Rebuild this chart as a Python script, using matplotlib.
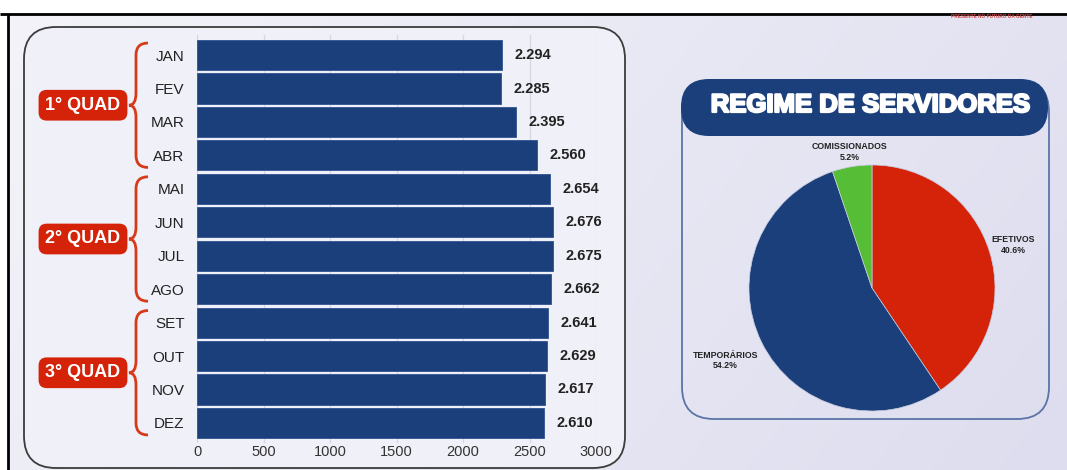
import numpy as np
import matplotlib
matplotlib.use('Agg')
import matplotlib.pyplot as plt
from matplotlib.patches import FancyBboxPatch, PathPatch
from matplotlib.path import Path
from matplotlib.colors import LinearSegmentedColormap
import matplotlib.transforms as mtransforms
import matplotlib.patheffects as pe

plt.rcParams['font.family'] = ['Liberation Sans', 'DejaVu Sans']

# ---------------- data ----------------
months = ['JAN', 'FEV', 'MAR', 'ABR', 'MAI', 'JUN', 'JUL', 'AGO', 'SET', 'OUT', 'NOV', 'DEZ']
values = [2294, 2285, 2395, 2560, 2654, 2676, 2675, 2662, 2641, 2629, 2617, 2610]
x_ticks = [0, 500, 1000, 1500, 2000, 2500, 3000]
quad_labels = ['1° QUAD', '2° QUAD', '3° QUAD']
quad_groups = [(0, 3), (4, 7), (8, 11)]
regime_labels = ['EFETIVOS', 'TEMPORÁRIOS', 'COMISSIONADOS']
regime_pct = [40.6, 54.2, 5.2]
pie_title = 'REGIME DE SERVIDORES'
slogan = 'PRESENTE NO FUTURO DA GENTE'

# ---------------- style ----------------
BLUE = '#1B3F7A'
RED = '#D42309'
GREEN = '#55BD36'
BRACE = '#D63A18'
W, H = 1067, 470

fig = plt.figure(figsize=(W / 100, H / 100), dpi=100)
fig.patch.set_facecolor('white')

bg = fig.add_axes([0, 0, 1, 1])
bg.axis('off')

# gradient background
gx = np.linspace(0, 1, 300)[None, :]
gy = np.linspace(0, 1, 120)[:, None]
grad = 0.75 * gx + 0.25 * gy
cmap = LinearSegmentedColormap.from_list('bgc', ['#F3F3F9', '#DDDDEF'])
bg.imshow(grad, extent=(8, W, H, 14), aspect='auto', cmap=cmap, zorder=0)
bg.set_xlim(0, W)
bg.set_ylim(H, 0)

# frame lines
bg.plot([0, W], [14, 14], color='black', lw=2, zorder=1, solid_capstyle='butt')
bg.plot([8, 8], [14, H], color='black', lw=2, zorder=1, solid_capstyle='butt')
bg.text(992, 17, slogan, fontsize=3.4, color='#D04848', fontweight='bold',
        ha='center', va='center', zorder=2)

# left panel
bg.add_patch(FancyBboxPatch((24, 27), 601, 441, boxstyle='round,pad=0,rounding_size=32',
                            fc='#F0F0F8', ec='#3C3C3C', lw=1.3, zorder=1))

# pie panel
bg.add_patch(FancyBboxPatch((682, 80), 367, 339, boxstyle='round,pad=0,rounding_size=32',
                            fc='none', ec='#5A74A8', lw=1.3, zorder=1))
bg.add_patch(FancyBboxPatch((681, 79), 367, 57, boxstyle='round,pad=0,rounding_size=28',
                            fc=BLUE, ec='none', zorder=2))
bg.text(871, 105, pie_title, fontsize=18.5, fontweight='bold', color='white',
        ha='center', va='center', zorder=3,
        path_effects=[pe.withStroke(linewidth=1.6, foreground='white')])

# ---------------- bar chart ----------------
ax = fig.add_axes([197 / W, 1 - 443 / H, (596 - 197) / W, 408 / H])
ax.set_facecolor('none')
ypos = np.arange(len(months))
ax.barh(ypos, values, height=0.9, color=BLUE, edgecolor='#2E5290', linewidth=0.6, zorder=3)
ax.set_xlim(0, 3000)
ax.set_ylim(len(months) - 0.4, -0.6)
ax.set_xticks(x_ticks)
ax.set_xticklabels([str(t) for t in x_ticks])
ax.set_yticks(ypos)
ax.set_yticklabels(months)
ax.tick_params(axis='y', length=0, pad=9, labelsize=11, labelcolor='#222222')
ax.tick_params(axis='x', length=0, pad=1.5, labelsize=10.5, labelcolor='#333333')
ax.grid(axis='x', color='#D6D6E2', lw=0.9, zorder=0)
for s in ax.spines.values():
    s.set_visible(False)

for i, v in enumerate(values):
    ax.annotate(f"{v:,}".replace(',', '.'), xy=(v, i), xytext=(9, 0),
                textcoords='offset points', ha='left', va='center',
                fontsize=10.5, fontweight='bold', color='#222222')

# braces and quad boxes
btr = mtransforms.blended_transform_factory(bg.transData, ax.transData)
x_end, x_line, x_tip = 148, 136, 129
d = 0.36
for (i0, i1), lab in zip(quad_groups, quad_labels):
    top = i0 - d
    bot = i1 + d
    mid = (i0 + i1) / 2
    verts = [(x_end, top), (x_line, top), (x_line, top + d),
             (x_line, mid - d),
             (x_line, mid), (x_tip, mid),
             (x_line, mid), (x_line, mid + d),
             (x_line, bot - d),
             (x_line, bot), (x_end, bot)]
    codes = [Path.MOVETO, Path.CURVE3, Path.CURVE3,
             Path.LINETO,
             Path.CURVE3, Path.CURVE3,
             Path.CURVE3, Path.CURVE3,
             Path.LINETO,
             Path.CURVE3, Path.CURVE3]
    bg.add_patch(PathPatch(Path(verts, codes), transform=btr, fc='none',
                           ec=BRACE, lw=2, zorder=4, clip_on=False))
    bg.text(83, mid, lab, transform=btr, ha='center', va='center',
            fontsize=13, fontweight='bold', color='white', zorder=5,
            bbox=dict(boxstyle='round,pad=0.38,rounding_size=0.45', fc=RED, ec='none'))

# ---------------- pie chart ----------------
pax = fig.add_axes([749 / W, 1 - 411 / H, 246 / W, 246 / H])
wedges, _ = pax.pie(regime_pct, colors=[RED, BLUE, GREEN], startangle=90,
                    counterclock=False, radius=1,
                    wedgeprops=dict(linewidth=0.5, edgecolor='#C8CCE0'))
pax.set_xlim(-1, 1)
pax.set_ylim(-1, 1)
pax.set_facecolor('none')

label_dist = [1.2, 1.33, 1.12]
for w, lab, pct, dist in zip(wedges, regime_labels, regime_pct, label_dist):
    ang = np.deg2rad((w.theta1 + w.theta2) / 2)
    pax.text(dist * np.cos(ang), dist * np.sin(ang), f"{lab}\n{pct:.1f}%",
             ha='center', va='center', fontsize=6.3, fontweight='bold',
             color='#222222', linespacing=1.25)

fig.savefig('out.png', dpi=100, facecolor=fig.get_facecolor())
